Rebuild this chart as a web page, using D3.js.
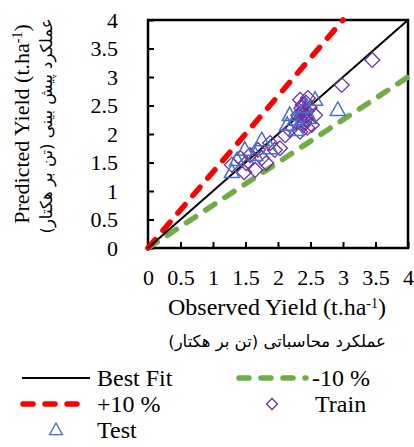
<!DOCTYPE html>
<html><head><meta charset="utf-8">
<script src="https://cdn.jsdelivr.net/npm/d3@7"></script>
<style>body{margin:0;background:#fff}svg{display:block}</style>
</head><body>
<svg id="c" width="414" height="447"></svg>
<script>
const ticks = [0,0.5,1,1.5,2,2.5,3,3.5,4];
const tickLabels = ["0","0.5","1","1.5","2","2.5","3","3.5","4"];
const trainObs = [3.45,2.98,1.29,1.42,1.51,1.57,1.69,1.75,1.88,1.95,2.03,2.11,2.18,2.29,2.38,2.38,2.42,2.45,2.34,2.49,2.52,2.34,2.46,2.31,2.57,1.48,1.82,1.65,2.40,2.42,2.38,2.44,2.36,2.40,2.43,2.39,2.41,2.37];
const trainPred = [3.30,2.86,1.46,1.58,1.49,1.63,1.72,1.58,1.84,1.72,1.75,1.98,2.07,2.21,2.39,2.51,2.25,2.11,2.04,2.46,2.16,2.60,2.63,2.33,2.33,1.33,1.49,1.37,2.20,2.30,2.15,2.40,2.45,2.35,2.55,2.28,2.42,2.32];
const testObs = [1.29,1.37,1.49,1.75,1.88,2.14,2.26,2.42,2.57,2.92,2.28,2.18,1.65,2.49];
const testPred = [1.33,1.54,1.72,1.89,1.75,2.16,2.25,2.47,2.60,2.42,2.07,2.33,1.63,2.28];
const bestFit = [[0,0],[4,4]];
const plus10 = [[0,0],[3,4]];
const minus10 = [[0,0],[4,3]];
const legendLabels = ["Best Fit","-10 %","+10 %","Train","Test"];

const svg = d3.select("#c");
const x = d3.scaleLinear().domain([0,4]).range([148,408]);
const y = d3.scaleLinear().domain([0,4]).range([248,20]);
const serif = "Liberation Serif";
const purple="#7030A0", blue="#4472C4", red="#FF0000", green="#70AD47";

const ax = svg.append("g").attr("transform","translate(0,248)")
  .call(d3.axisBottom(x).tickValues(ticks).tickSize(-6).tickFormat((d,i)=>tickLabels[i]).tickPadding(21));
const ay = svg.append("g").attr("transform","translate(148,0)")
  .call(d3.axisLeft(y).tickValues(ticks).tickSize(-6).tickFormat((d,i)=>tickLabels[i]).tickPadding(30));
[ax,ay].forEach(g=>{
  g.select(".domain").remove();
  g.selectAll(".tick line").attr("stroke","#000").attr("stroke-width",2);
  g.selectAll(".tick text").style("font-family",serif).attr("font-size",22).attr("fill","#000");
});
svg.append("rect").attr("x",x(0)).attr("y",y(4)).attr("width",x(4)-x(0)).attr("height",y(0)-y(4))
  .attr("fill","none").attr("stroke","#000").attr("stroke-width",2.5);

const line = d3.line().x(d=>x(d[0])).y(d=>y(d[1]));
svg.append("path").attr("d",line(minus10)).attr("stroke",green).attr("stroke-width",5.5)
  .attr("stroke-dasharray","11,12").attr("stroke-linecap","round").attr("fill","none");
svg.append("path").attr("d",line(plus10)).attr("stroke",red).attr("stroke-width",5.5)
  .attr("stroke-dasharray","11,12").attr("stroke-linecap","round").attr("fill","none");
svg.append("path").attr("d",line(bestFit)).attr("stroke","#000").attr("stroke-width",2).attr("fill","none");

const diamond = d3.symbol().type(d3.symbolSquare).size(110);
const tri = (s)=>{const h=s*0.9, w=s/2; return `M0,${-h*0.6}L${w},${h*0.4}L${-w},${h*0.4}Z`;};

svg.append("g").selectAll("path").data(trainObs).join("path")
  .attr("d",diamond).attr("transform",(d,i)=>`translate(${x(d)},${y(trainPred[i])}) rotate(45)`)
  .attr("fill","none").attr("stroke",purple).attr("stroke-width",1.3);
svg.append("g").selectAll("path").data(testObs).join("path")
  .attr("d",tri(15)).attr("transform",(d,i)=>`translate(${x(d)},${y(testPred[i])})`)
  .attr("fill","none").attr("stroke",blue).attr("stroke-width",1.5);

svg.append("text").attr("transform","translate(29,124) rotate(-90)").attr("text-anchor","middle")
  .style("font-family",serif).attr("font-size",22).html('Predicted Yield (t.ha<tspan baseline-shift="super" font-size="14">-1</tspan>)');
svg.append("text").attr("transform","translate(52,126) rotate(-90)").attr("text-anchor","middle")
  .style("font-family","DejaVu Sans").attr("font-size",16.5).attr("direction","rtl")
  .text("عملکرد پیش بینی (تن بر هکتار)");
svg.append("text").attr("x",277).attr("y",315).attr("text-anchor","middle")
  .style("font-family",serif).attr("font-size",24).html('Observed Yield (t.ha<tspan baseline-shift="super" font-size="14">-1</tspan>)');
svg.append("text").attr("x",277).attr("y",347).attr("text-anchor","middle")
  .style("font-family","DejaVu Sans").attr("font-size",16.5).attr("direction","rtl")
  .text("عملکرد محاسباتی (تن بر هکتار)");

const lg = svg.append("g").style("font-family",serif).attr("font-size",24);
const row=[378,404,430];
lg.append("line").attr("x1",22).attr("x2",90).attr("y1",row[0]).attr("y2",row[0]).attr("stroke","#000").attr("stroke-width",2);
lg.append("text").attr("x",97).attr("y",row[0]+8).text(legendLabels[0]);
lg.append("line").attr("x1",239).attr("x2",306).attr("y1",row[0]).attr("y2",row[0]).attr("stroke",green)
  .attr("stroke-width",5.5).attr("stroke-dasharray","10,12").attr("stroke-linecap","round");
lg.append("text").attr("x",312).attr("y",row[0]+8).text(legendLabels[1]);
lg.append("line").attr("x1",23).attr("x2",89).attr("y1",row[1]).attr("y2",row[1]).attr("stroke",red)
  .attr("stroke-width",5.5).attr("stroke-dasharray","10,12").attr("stroke-linecap","round");
lg.append("text").attr("x",97).attr("y",row[1]+8).text(legendLabels[2]);
lg.append("path").attr("d",d3.symbol().type(d3.symbolSquare).size(60)).attr("transform",`translate(272,${row[1]}) rotate(45)`)
  .attr("fill","none").attr("stroke",purple).attr("stroke-width",1.3);
lg.append("text").attr("x",315).attr("y",row[1]+8).text(legendLabels[3]);
lg.append("path").attr("d",tri(13)).attr("transform",`translate(56,${row[2]})`)
  .attr("fill","none").attr("stroke",blue).attr("stroke-width",1.3);
lg.append("text").attr("x",97).attr("y",row[2]+8).text(legendLabels[4]);
</script>
</body></html>
